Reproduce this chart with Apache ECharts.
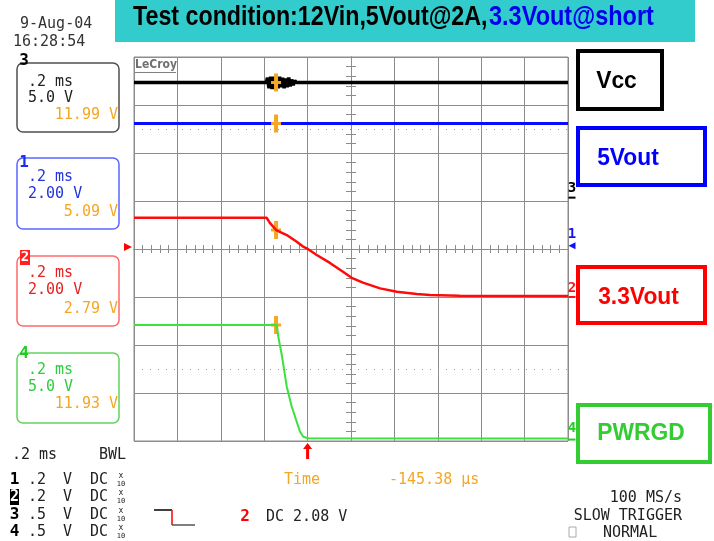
<!DOCTYPE html>
<html><head><meta charset="utf-8">
<script src="https://cdn.jsdelivr.net/npm/echarts@6/dist/echarts.min.js"></script>
<style>html,body{margin:0;padding:0;background:#fff}#c{width:714px;height:541px}</style>
</head><body><div id="c"></div>
<script>
// ---------------- data ----------------
const timeMin = -0.8, timeMax = 1.2, timeStep = 0.2;   // ms, 0.2 ms/div
const cursorTime = -0.14538;                           // ms
const triggerLevel = 2.08;                             // V on channel 2

const channelNames   = ['Vcc', '5Vout', '3.3Vout', 'PWRGD'];
const channelNumbers = ['3', '1', '2', '4'];
const voltsPerDiv    = [5, 2, 2, 5];
const groundDiv      = [1.07, 0.07, -1.0, -3.97];      // ground level, divisions from centre
const cursorVolts    = [11.99, 5.09, 2.79, 11.93];

const vccTime  = [-0.8, -0.19, -0.185, -0.178, -0.171, -0.164, -0.157, -0.150, -0.143, -0.136, -0.129, -0.122, -0.115, -0.108, -0.101, -0.094, -0.087, -0.080, -0.073, -0.066, -0.059, -0.052, 1.2];
const vccVolts = [11.99, 11.99, 12.5, 11.4, 12.6, 11.3, 12.6, 11.3, 12.5, 11.4, 12.6, 11.5, 12.5, 11.4, 12.4, 11.5, 12.5, 11.6, 12.3, 11.7, 12.2, 11.99, 11.99];

const v5Time  = [-0.8, 1.2];
const v5Volts = [5.09, 5.09];

const v33Time  = [-0.8, -0.189, -0.173, -0.145, -0.096, -0.050, -0.021, -0.004, 0.042, 0.103, 0.163, 0.203, 0.255, 0.334, 0.411, 0.503, 0.564, 0.70, 1.2];
const v33Volts = [3.30, 3.30, 3.08, 2.79, 2.58, 2.30, 2.10, 2.03, 1.75, 1.42, 1.05, 0.80, 0.60, 0.36, 0.22, 0.125, 0.08, 0.05, 0.04];

const pgTime  = [-0.8, -0.142, -0.135, -0.119, -0.096, -0.073, -0.050, -0.035, -0.020, 0.003, 1.2];
const pgVolts = [11.93, 11.93, 10.71, 8.81, 5.51, 3.42, 1.86, 0.82, 0.30, 0.13, 0.10];

const traceTimes = [vccTime, v5Time, v33Time, pgTime];
const traceVolts = [vccVolts, v5Volts, v33Volts, pgVolts];

// ---------------- styling ----------------
const traceColors = ['#000000', '#0a0aff', '#ff0a0a', '#3ae23a'];
const traceWidths = [3.5, 3, 2.5, 2];
const markerColors = ['#000000', '#1010ff', '#ff1010', '#22cc22'];
const gc = '#8c8c8c';
const orange = '#f5a623';
const mono = "'DejaVu Sans Mono', monospace";

const chart = echarts.init(document.getElementById('c'), null, {renderer: 'canvas'});

function divAxis(pos, withSplit, tickLen) {
  return {
    type: 'value', min: pos === 'left' || pos === 'right' ? -4 : -5, max: pos === 'left' || pos === 'right' ? 4 : 5,
    interval: 1, position: pos,
    axisLine: {show: true, onZero: true, onZeroAxisIndex: 0, lineStyle: {color: gc, width: 1}},
    axisTick: {show: true, length: tickLen, lineStyle: {color: gc, width: 1}},
    minorTick: {show: true, splitNumber: 5, length: tickLen, lineStyle: {color: gc, width: 1}},
    axisLabel: {show: false},
    splitLine: {show: withSplit, lineStyle: {color: gc, width: 1}},
    minorSplitLine: {show: false},
    silent: true
  };
}

const chAxes = voltsPerDiv.map((s, i) => ({
  type: 'value', show: false,
  min: (-4 - groundDiv[i]) * s, max: (4 - groundDiv[i]) * s,
  axisLine: {onZero: false}, splitLine: {show: false}
}));

const cursorPath = 'path://M3,0 H7 V7.5 H10 V10.5 H7 V18 H3 V10.5 H0 V7.5 H3 Z';
const arrowPath = 'path://M4.5,0 L9,6 L6,6 L6,16 L3,16 L3,6 L0,6 Z';

const series = [{
  type: 'line', xAxisIndex: 0, yAxisIndex: 0, data: [], silent: true,
  markLine: {
    silent: true, symbol: ['none', 'none'], label: {show: false}, animation: false,
    lineStyle: {color: '#9a9a9a', width: 1, type: [1, 7]},
    data: [{yAxis: 2.5}, {yAxis: -2.5}]
  }
}];

traceTimes.forEach((ts, i) => {
  const mp = [
    {coord: [cursorTime, cursorVolts[i]], symbol: cursorPath, symbolSize: [10, 18], itemStyle: {color: orange}, label: {show: false}},
    {coord: [timeMax, 0], symbol: i === 1 ? 'triangle' : 'rect', symbolRotate: i === 1 ? 90 : 0,
     symbolSize: i === 1 ? [7, 7] : [7, 2], symbolOffset: [4, 0], itemStyle: {color: markerColors[i]},
     label: {show: true, formatter: channelNumbers[i], position: 'top', distance: i === 3 ? 3 : 1,
             color: markerColors[i], fontFamily: mono, fontSize: 14, fontWeight: 'bold'}}
  ];
  if (i === 2) {
    mp.push({coord: [timeMin, triggerLevel], symbol: 'triangle', symbolRotate: -90, symbolSize: [8, 8],
             symbolOffset: [-6, 0], itemStyle: {color: '#ff0000'}, label: {show: false}});
  }
  if (i === 3) {
    mp.push({coord: [0, chAxes[3].min], symbol: arrowPath, symbolSize: [9, 16], symbolOffset: [0, 10],
             itemStyle: {color: '#ff0000'}, label: {show: false}});
  }
  series.push({
    name: channelNames[i], type: 'line', xAxisIndex: 2, yAxisIndex: 2 + i,
    data: ts.map((t, k) => [t, traceVolts[i][k]]),
    showSymbol: false, symbol: 'none', animation: false, silent: true,
    lineStyle: {color: traceColors[i], width: traceWidths[i]},
    z: 3 + i,
    markPoint: {animation: false, silent: true, data: mp}
  });
});

// ---------------- decorations ----------------
const G = [];
function txt(x, y, text, color, font, align, extra) {
  G.push(Object.assign({type: 'text', x: x, y: y, silent: true,
    style: {x: 0, y: 0, text: text, fill: color, font: font, align: align || 'left', verticalAlign: 'middle',
            textAlign: align || 'left', textVerticalAlign: 'middle'}}, extra || {}));
}
function rect(x, y, w, h, style, r) {
  G.push({type: 'rect', silent: true, shape: {x: x, y: y, width: w, height: h, r: r || 0}, style: style});
}
function line(x1, y1, x2, y2, color, w) {
  G.push({type: 'line', silent: true, shape: {x1: x1, y1: y1, x2: x2, y2: y2}, style: {stroke: color, lineWidth: w || 1}});
}

// title bar
rect(115, 0, 580, 42, {fill: '#33cccc'});
txt(133, 17, 'Test condition:12Vin,5Vout@2A,', '#000', "bold 28px 'Liberation Sans', Arial", 'left', {scaleX: 0.83});
txt(489, 17, '3.3Vout@short', '#0000ee', "bold 28px 'Liberation Sans', Arial", 'left', {scaleX: 0.84});

// date/time
txt(20, 24, '9-Aug-04', '#333', '15px ' + mono);
txt(13, 42, '16:28:54', '#333', '15px ' + mono);

// LeCroy logo
txt(135, 65, 'LeCroy', '#707070', "bold 12px 'DejaVu Sans'", 'left', {scaleX: 0.9});
line(135, 72.5, 176, 72.5, '#808080', 1);

// left channel boxes
const boxes = [
  {y: 63, h: 69, stroke: '#505050', tc: '#222', l1: '.2 ms', l2: '5.0 V', val: '11.99 V', y1: 82, y2: 98, y3: 115},
  {y: 158, h: 71, stroke: '#5a66ff', tc: '#2233dd', l1: '.2 ms', l2: '2.00 V', val: '5.09 V', y1: 177, y2: 194, y3: 212},
  {y: 256, h: 70, stroke: '#ff6a6a', tc: '#e52222', l1: '.2 ms', l2: '2.00 V', val: '2.79 V', y1: 273, y2: 290, y3: 309},
  {y: 353, h: 70, stroke: '#5fd35f', tc: '#2ecc40', l1: '.2 ms', l2: '5.0 V', val: '11.93 V', y1: 370, y2: 387, y3: 404}
];
boxes.forEach(b => {
  rect(17, b.y, 102, b.h, {fill: 'none', stroke: b.stroke, lineWidth: 1.5}, 6);
  txt(28, b.y1, b.l1, b.tc, '15px ' + mono);
  txt(28, b.y2, b.l2, b.tc, '15px ' + mono);
  txt(118, b.y3, b.val, orange, '15px ' + mono, 'right');
});
txt(24, 61, '3', '#000', 'bold 16px ' + mono, 'center');
txt(24, 163, '1', '#1a2cf0', 'bold 16px ' + mono, 'center');
rect(20, 250, 10, 15, {fill: '#ff2020'});
txt(25, 257.5, '2', '#fff', 'bold 14px ' + mono, 'center');
txt(24, 354, '4', '#22cc22', 'bold 16px ' + mono, 'center');

// right labelled boxes
const rb = [
  {x: 578, y: 51, w: 84, h: 58, c: '#000000', t: 'Vcc', cx: 616.5, cy: 81.5},
  {x: 578, y: 128, w: 127, h: 57, c: '#0000ff', t: '5Vout', cx: 628, cy: 158.5},
  {x: 578, y: 267, w: 127, h: 56, c: '#ff0000', t: '3.3Vout', cx: 638.5, cy: 297.5},
  {x: 578, y: 405, w: 132, h: 57, c: '#33cc33', t: 'PWRGD', cx: 641, cy: 433}
];
rb.forEach(b => {
  rect(b.x, b.y, b.w, b.h, {fill: 'none', stroke: b.c, lineWidth: 4});
  txt(b.cx, b.cy, b.t, b.c, "bold 24px 'Liberation Sans', Arial", 'center', {scaleX: 0.95});
});

// bottom-left channel settings
txt(12, 455, '.2 ms', '#222', '15px ' + mono);
txt(99, 455, 'BWL', '#222', '15px ' + mono);
const rowY = [480, 497, 515, 532];
const rowNum = ['1', '2', '3', '4'];
const rowScale = ['.2', '.2', '.5', '.5'];
rowY.forEach((y, i) => {
  if (i === 1) {
    rect(10, y - 8, 9, 16, {fill: '#000'});
    txt(14.5, y, rowNum[i], '#fff', 'bold 15px ' + mono, 'center');
  } else {
    txt(14.5, y, rowNum[i], '#000', 'bold 16px ' + mono, 'center');
  }
  txt(28, y, rowScale[i], '#222', '15px ' + mono);
  txt(63, y, 'V', '#222', '15px ' + mono);
  txt(90, y, 'DC', '#222', '15px ' + mono);
  txt(121, y - 4, 'x', '#222', '8px ' + mono, 'center');
  txt(121, y + 4, '10', '#222', '7px ' + mono, 'center');
});

// cursor readout
txt(284, 480, 'Time', orange, '15px ' + mono);
txt(389, 480, '-145.38 \u00b5s', orange, '15px ' + mono);

// trigger description
line(154, 510, 172, 510, '#000', 1.5);
line(172, 510, 172, 525, '#ff0000', 1.5);
line(172, 525, 195, 525, '#555', 1.5);
txt(245, 517, '2', '#ff0000', 'bold 16px ' + mono, 'center');
txt(266, 517, 'DC 2.08 V', '#222', '15px ' + mono);

// bottom right
txt(682, 498, '100 MS/s', '#222', '15px ' + mono, 'right');
txt(682, 516, 'SLOW TRIGGER', '#222', '15px ' + mono, 'right');
rect(569, 527, 7, 10, {fill: 'none', stroke: '#aaa', lineWidth: 1});
txt(603, 533, 'NORMAL', '#222', '15px ' + mono);

chart.setOption({
  animation: false,
  backgroundColor: '#ffffff',
  grid: {left: 134, top: 57, width: 434, height: 384, show: true, borderColor: gc, borderWidth: 1,
         backgroundColor: 'transparent', outerBoundsMode: 'none', containLabel: false},
  xAxis: [divAxis('bottom', true, 4), divAxis('top', false, 4),
          {type: 'value', show: false, min: timeMin, max: timeMax, interval: timeStep,
           axisLine: {onZero: false}, splitLine: {show: false}}],
  yAxis: [divAxis('left', true, 5), divAxis('right', false, 5)].concat(chAxes),
  series: series,
  graphic: {elements: G}
});
</script>
</body></html>
